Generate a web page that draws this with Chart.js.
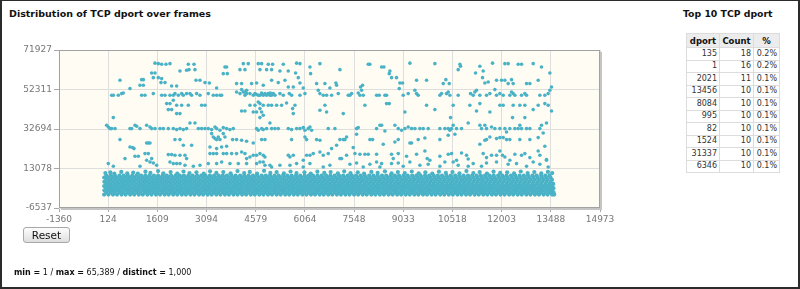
<!DOCTYPE html>
<html>
<head>
<meta charset="utf-8">
<script src="https://cdn.jsdelivr.net/npm/chart.js@4.4.1/dist/chart.umd.min.js"></script>
<style>
  html, body { margin:0; padding:0; }
  body { width:800px; height:289px; overflow:hidden; background:#fff; font-family:"DejaVu Sans", sans-serif; position:relative; }
  #frame { position:absolute; left:0; top:0; width:800px; height:289px; box-sizing:border-box; border:2px solid #2b2b2b; border-top-width:1px; }
  .title { position:absolute; font-weight:bold; font-size:9.5px; color:#111; white-space:nowrap; }
  #chartTitle { left:9px; top:8px; }
  #tableTitle { left:683px; top:8px; font-size:9.3px; }
  #wrap { position:absolute; left:0; top:40px; }
  #topTable { position:absolute; left:686px; top:33px; border-collapse:collapse; border:1px solid #cfcfcf; }
  #topTable th { background:#ececec; font-size:8.5px; font-weight:bold; color:#111; height:13px; padding:0 2px; border:1px solid #dcdcdc; }
  #topTable td { font-size:8px; color:#333; text-align:right; padding:0 2px; height:11.5px; line-height:10px; border:1px solid #dcdcdc; }
  #resetBtn { position:absolute; left:23px; top:227px; width:47px; height:16px; box-sizing:border-box; border:1px solid #a8a8a8; border-radius:3px;
              background:linear-gradient(#fdfdfd, #dedede); font-family:"DejaVu Sans", sans-serif; font-size:10.5px; color:#111; padding:0; line-height:13px; }
  #stats { position:absolute; left:14px; top:268px; font-size:8px; color:#111; white-space:nowrap; }
  #stats b { font-weight:bold; }
</style>
</head>
<body>
<div id="frame"></div>
<div class="title" id="chartTitle">Distribution of TCP dport over frames</div>
<div class="title" id="tableTitle">Top 10 TCP dport</div>
<div id="wrap"><canvas id="dportChart" width="620" height="190"></canvas></div>
<table id="topTable"></table>
<button id="resetBtn">Reset</button>
<div id="stats"></div>
<script>
// axis ticks
const xTicks = [-1360, 124, 1609, 3094, 4579, 6064, 7548, 9033, 10518, 12003, 13488, 14973];
const xTickLabels = ['-1360', '124', '1609', '3094', '4579', '6064', '7548', '9033', '10518', '12003', '13488', '14973'];
const yTicks = [-6537, 13078, 32694, 52311, 71927];
const yTickLabels = ['-6537', '13078', '32694', '52311', '71927'];

// top 10 table
const topPorts = ['135', '1', '2021', '13456', '8084', '995', '82', '1524', '31337', '6346'];
const topCounts = [18, 16, 11, 10, 10, 10, 10, 10, 10, 10];
const topShare = ['0.2%', '0.2%', '0.1%', '0.1%', '0.1%', '0.1%', '0.1%', '0.1%', '0.1%', '0.1%'];

// summary line
const statNames = ['min', 'max', 'distinct'];
const statValues = ['1', '65,389', '1,000'];

// dense low-port band: one list of frames per port level
const bandPorts = [150, 1200, 2250, 3300, 4350, 5400, 6450, 7500, 8550, 9600];
const band150 = [2,131,268,392,529,651,788,912,1049,1171,1309,1432,1568,1691,1829,1952,2088,2211,2349,2472,2608,2731,2869,2992,3128,3251,3389,3512,3648,3771,3909,4032,4168,4291,4429,4552,4688,4811,4949,5072,5208,5331,5469,5592,5728,5851,5989,6112,6248,6371,6509,6632,6768,6891,7029,7152,7288,7411,7549,7672,7808,7931,8069,8192,8328,8451,8589,8712,8848,8971,9109,9232,9368,9491,9629,9752,9888,10011,10149,10272,10408,10531,10669,10792,10928,11051,11189,11312,11448,11571,11709,11832,11968,12091,12229,12352,12488,12611,12749,12872,13008,13131,13269,13392,13528,13590];
const band1200 = [64,197,322,461,583,718,846,979,1101,1236,1368,1497,1622,1759,1887,2014,2142,2281,2406,2537,2668,2799,2923,3062,3188,3317,3446,3583,3709,3838,3967,4102,4228,4361,4487,4618,4753,4879,5006,5141,5266,5398,5527,5661,5789,5916,6047,6183,6308,6436,6571,6697,6829,6962,7088,7219,7351,7477,7612,7738,7866,8001,8127,8259,8392,8518,8647,8783,8909,9037,9172,9298,9431,9562,9687,9821,9948,10079,10213,10338,10469,10601,10728,10857,10992,11117,11249,11382,11508,11641,11768,11903,12029,12158,12292,12417,12549,12681,12807,12941,13068,13199,13331,13458,13571];
const band2250 = [11,139,259,401,521,662,779,921,1038,1182,1299,1441,1558,1702,1818,1961,2079,2222,2338,2482,2598,2741,2858,3001,3119,3262,3378,3521,3639,3782,3898,4041,4159,4302,4418,4561,4678,4822,4938,5081,5199,5342,5458,5601,5719,5862,5978,6121,6239,6382,6498,6641,6759,6902,7018,7161,7279,7422,7538,7681,7799,7942,8058,8201,8319,8462,8578,8721,8839,8982,9098,9241,9359,9502,9618,9761,9879,10022,10138,10281,10399,10542,10658,10801,10919,11062,11178,11321,11439,11582,11698,11841,11959,12102,12218,12361,12479,12622,12738,12881,12999,13142,13258,13401,13519];
const band3300 = [72,203,331,458,592,721,849,983,1112,1238,1371,1503,1629,1762,1891,2019,2152,2283,2411,2542,2672,2801,2934,3063,3191,3324,3452,3583,3712,3843,3971,4104,4232,4363,4491,4622,4752,4883,5011,5142,5272,5403,5531,5662,5791,5923,6052,6181,6312,6443,6571,6702,6833,6961,7092,7222,7351,7482,7613,7741,7872,8002,8131,8263,8392,8521,8652,8783,8911,9042,9172,9303,9431,9562,9693,9821,9952,10083,10211,10342,10472,10601,10732,10863,10991,11122,11253,11381,11512,11642,11771,11903,12032,12161,12292,12423,12551,12682,12813,12941,13072,13202,13331,13462,13566];
const band4350 = [3,128,261,389,518,649,777,908,1039,1168,1297,1428,1559,1687,1818,1949,2077,2208,2339,2467,2598,2729,2857,2988,3119,3247,3378,3509,3637,3768,3899,4027,4158,4289,4417,4548,4679,4807,4938,5069,5197,5328,5459,5587,5718,5849,5977,6108,6239,6367,6498,6629,6757,6888,7019,7147,7278,7409,7537,7668,7799,7927,8058,8189,8317,8448,8579,8707,8838,8969,9097,9228,9359,9487,9618,9749,9877,10008,10139,10267,10398,10529,10657,10788,10919,11047,11178,11309,11437,11568,11699,11827,11958,12089,12217,12348,12479,12607,12738,12869,12997,13128,13259,13387,13518];
const band5400 = [68,194,327,452,584,713,843,972,1104,1233,1362,1491,1623,1752,1881,2013,2142,2271,2403,2532,2661,2793,2922,3051,3183,3312,3441,3573,3702,3831,3963,4092,4221,4353,4482,4611,4743,4872,5001,5133,5262,5391,5523,5652,5781,5913,6042,6171,6303,6432,6561,6693,6822,6951,7083,7212,7341,7473,7602,7731,7863,7992,8121,8253,8382,8511,8643,8772,8901,9033,9162,9291,9423,9552,9681,9813,9942,10071,10203,10332,10461,10593,10722,10851,10983,11112,11241,11373,11502,11631,11763,11892,12021,12153,12282,12411,12543,12672,12801,12933,13062,13191,13323,13452,13561];
const band6450 = [9,137,266,398,527,655,786,914,1046,1175,1303,1434,1562,1694,1823,1951,2082,2210,2342,2471,2599,2730,2858,2990,3119,3247,3378,3506,3638,3767,3895,4026,4154,4286,4415,4543,4674,4802,4934,5063,5191,5322,5450,5582,5711,5839,5970,6098,6230,6359,6487,6618,6746,6878,7007,7135,7266,7394,7526,7655,7783,7914,8042,8174,8303,8431,8562,8690,8822,8951,9079,9210,9338,9470,9599,9727,9858,9986,10118,10247,10375,10506,10634,10766,10895,11023,11154,11282,11414,11543,11671,11802,11930,12062,12191,12319,12450,12578,12710,12839,12967,13098,13226,13358,13487];
const band7500 = [74,201,333,462,589,721,850,977,1109,1238,1365,1497,1626,1753,1885,2014,2141,2273,2402,2529,2661,2790,2917,3049,3178,3305,3437,3566,3693,3825,3954,4081,4213,4342,4469,4601,4730,4857,4989,5118,5245,5377,5506,5633,5765,5894,6021,6153,6282,6409,6541,6670,6797,6929,7058,7185,7317,7446,7573,7705,7834,7961,8093,8222,8349,8481,8610,8737,8869,8998,9125,9257,9386,9513,9645,9774,9901,10033,10162,10289,10421,10550,10677,10809,10938,11065,11197,11326,11453,11585,11714,11841,11973,12102,12229,12361,12490,12617,12749,12878,13005,13137,13266,13393,13525];
const band8550 = [6,133,264,391,522,654,781,912,1040,1171,1299,1430,1561,1688,1819,1947,2078,2206,2337,2465,2596,2727,2854,2985,3113,3244,3372,3503,3631,3762,3893,4020,4151,4279,4410,4538,4669,4797,4928,5059,5186,5317,5445,5576,5704,5835,5963,6094,6225,6352,6483,6611,6742,6870,7001,7129,7260,7391,7518,7649,7777,7908,8036,8167,8295,8426,8557,8684,8815,8943,9074,9202,9333,9461,9592,9723,9850,9981,10109,10240,10368,10499,10627,10758,10889,11016,11147,11275,11406,11534,11665,11793,11924,12055,12182,12313,12441,12572,12700,12831,12959,13090,13221,13348,13479];
const band9600 = [71,205,329,466,594,718,853,981,1118,1246,1372,1507,1633,1769,1894,2023,2158,2287,2411,2546,2674,2809,2935,3061,3196,3324,3459,3585,3711,3846,3972,4109,4236,4362,4497,4623,4758,4884,5011,5146,5272,5407,5533,5661,5796,5922,6057,6183,6310,6445,6571,6706,6832,6959,7094,7220,7355,7481,7608,7743,7869,8004,8130,8257,8392,8518,8653,8779,8906,9041,9167,9302,9428,9555,9690,9816,9951,10077,10204,10339,10465,10600,10726,10853,10988,11114,11249,11375,11502,11637,11763,11898,12024,12151,12286,12412,12547,12673,12800,12935,13061,13196,13322,13449];

// ragged top edge of the band [frame, dport]
const bandEdge = [[40,10800],[190,11200],[310,10600],[520,11400],[700,10700],[880,11100],[1020,10500],[1250,11500],[1400,10900],[1630,11800],[1790,10700],[2010,11300],[2210,10600],[2400,11600],[2580,10800],[2790,11200],[3010,10600],[3200,11700],[3390,10900],[3600,11300],[3820,10700],[4030,11800],[4230,10800],[4400,11400],[4620,10600],[4830,11900],[5020,10900],[5210,11300],[5430,10700],[5630,11600],[5810,10800],[6050,11200],[6240,10600],[6440,11500],[6650,10900],[6840,11300],[7060,10700],[7250,11700],[7440,10800],[7660,11200],[7850,10600],[8070,11400],[8260,10900],[8480,11700],[8680,10700],[8870,11300],[9080,10800],[9290,11600],[9500,10700],[9700,11200],[9910,10600],[10110,11500],[10320,10900],[10520,11300],[10730,10700],[10940,11800],[11150,10800],[11340,11300],[11560,10600],[11760,11500],[11960,10900],[12170,11200],[12380,10700],[12580,11600],[12790,10800],[12990,11300],[13200,10700],[13400,11400],[13530,10800]];

// scattered high ports [frame, dport]
const highPoints = [[1538,65389],[1638,65159],[1739,64828],[1870,64828],[1990,65159],[2544,64828],[2715,64828],[3650,63504],[3700,63504],[4204,65159],[4354,65159],[4656,65159],[4757,65159],[4958,64828],[5089,64828],[5411,64828],[5813,65389],[5914,65159],[6517,65159],
[2292,61518],[2493,61849],[2564,62180],[2745,62180],[3600,60194],[3721,60194],[4103,62180],[4254,62180],[4707,62180],[4908,62180],[5059,62180],[5310,61518],[5562,61518],[5783,60525],[6216,63504],[6236,60194],[7121,62180],
[1437,60525],[1538,60525],[1487,58208],[1638,58208],[1739,57712],[481,56884],[1135,57215],[1186,57215],[1719,55726],[1840,55726],[2775,56884],[2896,56884],[3047,55726],[3178,55560],[3399,53078],[4001,55229],[4153,55229],[4455,55229],[4606,55560],[4807,54402],[5059,56884],[5260,55726],[5461,56884],[5864,58208],[5914,55560],[6417,55229],[6668,55229],[7000,55560],[7020,54402],
[1085,54402],[1186,54402],[2041,54071],[2192,54071],[5562,53574],[5713,53574],[6014,53078],[6819,53078],
[7976,64828],[8026,64828],[8379,63504],[8449,63504],[9234,65389],[9988,65159],[10743,64828],[10763,63835],[11346,63835],[11728,65389],[12101,65159],[12201,65159],[12503,64828],[12604,64828],[12956,65159],[13207,63504],
[8630,61518],[8610,60194],[8680,58208],[8831,58208],[8932,55560],[9012,55560],[9435,56884],[9737,56884],[10320,57215],[10240,55229],[10421,55229],[10692,62180],[11215,60525],[11447,61518],[11427,58208],[11497,55560],[11598,56057],[11849,56884],[12000,56884],[12101,56884],[12201,55229],[12302,57215],[12352,55229],[12755,55229],[12855,55229],[13107,56884],[13459,60525],
[7745,53574],[7805,54402],[13509,53574]];

const row49k = [[783,52746],[4153,52250],[4254,51092],[4304,51919],[6467,51919],
[230,49437],[280,49437],[431,49437],[532,50264],[582,50595],[1135,49437],[1236,49437],[1487,50264],[1739,49437],[1840,49437],[1990,49437],[2091,49437],[2141,50264],[2242,49437],[2343,50264],[2393,49437],[2493,50264],[2594,50264],[2644,49437],[2795,50264],[2896,49437],[3147,50264],[3298,49437],[3399,49437],[3499,49437],[3550,49437],[4001,51092],[4103,50264],[4204,51092],[4254,49437],[4304,50264],[4405,50264],[4505,49437],[4707,49437],[4757,50595],[4858,50264],[4958,50264],[5059,50264],[5109,50264],[5159,49437],[5310,50264],[5411,49437],[5592,50264],[5662,49437],[5914,49437],[6065,50264],[6517,50264],[6618,49437],[6719,49437],[6870,49437],[7071,50264],[7373,49437],
[4656,49437],[4808,49437],[4908,49437],[5008,49437],[4556,50264],[4606,49850],[4757,49850],[4858,49850],[5008,50595],[5059,49437],
[7775,51919],[7423,49437],[7473,50264],[7674,50595],[7725,49437],[7825,49437],[8228,49437],[8308,49437],[8479,49437],[8529,49437],[8912,52746],[9032,49437],[9183,50264],[9384,51919],[9435,50264],[9485,49437],[10139,49437],[10189,50264],[10340,50264],[10391,51092],[10441,49437],[10692,49437],[11064,50264],[11145,49437],[11195,51092],[11245,51919],[11346,49437],[11547,49437],[11648,50264],[11799,52250],[11849,49437],[11950,50264],[12050,49437],[12251,49437],[12302,51092],[12352,50264],[12403,49437],[12604,49437],[12704,50264],[12755,49437],[13157,49437],[13308,49437],[13409,50264],[13459,51919]];

const midPoints = [[1890,45299],[1990,45299],[2091,46954],[2192,44472],[2343,44472],[2544,44472],[2946,44472],[3047,44472],[4405,44472],[4556,44472],[4656,46127],[4707,45299],[4807,44472],[4958,44472],[5059,44472],[5210,44472],[5360,44472],[5511,45630],[5763,44472],[6517,41989],[6668,44472],[6719,41162],[1940,42320],[2041,42320],[2192,40334],[2292,40334],[4153,41658],[4254,41658],[4505,41162],[4606,41162],[4707,42816],[4757,41162],[4807,39506],[4707,38348],[5692,42816],[5713,40334],[280,38348],
[7876,44472],[8529,45299],[8610,45299],[9083,41162],[9737,44472],[9988,42320],[10541,44472],[11044,44472],[11245,41658],[11346,45299],[11648,41162],[11950,44472],[12050,44472],[12352,44472],[12553,44472],[12704,44472],[12956,42320],[13107,44472],[13308,45299],[13409,44472],[13509,41658],[7222,40334],[10461,38348],[12332,38348],[12704,38348]];

const row32k = [[79,34541],[129,33714],[180,32887],[230,32887],[331,32887],[783,32887],[834,32887],[934,34541],[984,34045],[1085,32887],[1286,34541],[1387,33714],[1437,32887],[1538,32887],[1689,32887],[1789,32887],[1940,32887],[2091,32887],[2192,32390],[2292,32887],[2393,32390],[2493,32887],[2594,35700],[2745,35700],[2846,32887],[2946,32887],[3047,32887],[3147,32887],[3248,32390],[3349,33714],[3399,32887],[3499,32059],[3600,33383],[3701,32887],[3801,32390],[3902,32887],[4606,32887],[4656,32059],[4757,32887],[4807,32390],[4908,32887],[5008,35700],[5059,32887],[5159,32887],[5260,32887],[5562,32887],[5662,32390],[5813,32887],[5914,32887],[6014,33383],[6065,32059],[6165,32887],[6216,33714],[6266,32059],[6769,32887],[6970,32887],
[7624,32887],[7674,33383],[8228,32887],[8328,34541],[8379,34541],[8479,31728],[8781,34541],[8882,32887],[8982,32059],[9083,32887],[9183,33714],[9284,32887],[9385,32887],[9535,32887],[9636,32887],[9787,32887],[10139,32887],[10290,32887],[10391,32887],[10491,32887],[10541,34541],[10642,32887],[10793,32887],[10994,35700],[11346,34541],[11397,32887],[11497,34541],[11547,32887],[11698,33714],[11799,32887],[11950,32887],[12101,32887],[12151,31232],[12251,32887],[12403,32887],[12503,32887],[12553,34541],[12604,32887],[12755,32887],[12855,32887],[13157,32887],[13207,34541],[13358,35700]];

const lowPoints = [[481,27425],[1337,25770],[1387,25770],[2141,27425],[2292,27425],[3248,30404],[3298,28749],[3349,27922],[3399,27425],[3449,28749],[3499,27425],[3600,30404],[3650,28749],[3882,27425],[4001,27425],[4153,27094],[4304,26597],[4505,25770],[4757,27425],[4858,27425],[5662,27425],[6065,28749],[6115,27425],[6417,27425],[6517,27094],[7121,27425],[7322,28749],[7222,27425],
[783,23784],[864,23453],[904,22956],[1286,25770],[2393,24611],[2644,24611],[3198,23784],[3399,22956],[3550,23784],[3701,24115],[7020,24611],[6870,22956],
[7272,27425],[7624,30073],[8026,27425],[8107,27425],[8429,25108],[8781,26266],[8882,27425],[9234,25770],[9284,25770],[9485,27425],[9686,28252],[10139,27425],[10391,29576],[10441,32059],[10592,30073],[11346,25108],[11497,27094],[11547,27425],[11648,28749],[11849,27922],[11950,28418],[12050,28418],[12151,27425],[12251,27425],[12553,27425],[12855,27425],[13107,28418],[13258,30735],[7523,23453],[13308,24115]];

const lowerPoints = [[632,17991],[934,19150],[1035,19150],[1236,20474],[1337,20474],[1437,17991],[1940,19977],[2041,19977],[2141,19646],[2292,19646],[2443,19646],[2493,17991],[3198,20474],[3298,20474],[3399,20474],[3600,20474],[3701,20474],[3852,20474],[4001,20474],[4153,21301],[4254,20474],[4304,17991],[4405,18819],[4505,19646],[4606,19646],[4707,20474],[4807,19646],[4858,18819],[5562,19646],[5612,18819],[5713,19646],[6014,17164],[6115,19646],[6216,19646],[6316,20474],[6517,21301],[6618,19646],[6769,20474],[7121,17991],[7322,19646],
[129,15509],[280,14185],[1085,14185],[1286,17164],[1387,16336],[1487,15840],[1588,14681],[1990,16336],[2091,15509],[2192,15509],[2292,15509],[2443,14681],[2695,14185],[2896,14681],[3147,15509],[3399,15509],[3550,16336],[3801,15509],[4053,15509],[4304,15509],[4606,15509],[4707,16336],[4807,16336],[4858,14681],[5008,14681],[5059,13854],[5310,14681],[5612,14681],[5813,15509],[6014,13854],[6216,15509],[6618,13854],[6819,14681],
[7574,20474],[7725,20143],[7876,20143],[7976,20143],[8228,20143],[8379,15509],[8680,20143],[8731,17991],[8882,20474],[9133,19150],[9435,20143],[9686,21798],[9757,17991],[9837,17164],[10139,19150],[10391,20143],[10491,20474],[10642,17164],[10793,20805],[10944,19646],[10994,17826],[11447,20474],[11547,18488],[11698,19646],[11849,19646],[11950,21798],[12030,19646],[12101,18819],[12251,17164],[12403,20143],[12604,19646],[12704,20474],[12855,18488],[13107,21798],[13157,19646],[13358,17495],
[7171,17991],[7423,15178],[7624,15840],[7825,13854],[8026,15178],[8228,16336],[8328,13854],[8680,15509],[8882,15840],[9032,14185],[9234,16336],[9535,14681],[9787,15178],[10139,14185],[10290,16336],[10541,16336],[10692,14681],[10994,14185],[11145,15509],[11397,14185],[11547,15840],[11849,16336],[12201,15178],[12453,15509],[12755,14185],[12956,16336],[13157,15178],[13358,17164],[13409,13854]];

//----------------------------------------------------------------------------------------------
const pointColor = 'rgb(74, 178, 198)';

const bandFrames = [band150, band1200, band2250, band3300, band4350, band5400, band6450, band7500, band8550, band9600];
let bandData = [];
bandFrames.forEach((frames, i) => {
    frames.forEach(f => bandData.push({ x: f, y: bandPorts[i] }));
});
bandEdge.forEach(p => bandData.push({ x: p[0], y: p[1] }));

let sparseData = [];
[highPoints, row49k, midPoints, row32k, lowPoints, lowerPoints].forEach(group => {
    group.forEach(p => sparseData.push({ x: p[0], y: p[1] }));
});

// cream plot background and grey frame with a small shadow
const plotFrame = {
    id: 'plotFrame',
    beforeDraw(chart) {
        const { ctx, chartArea: a } = chart;
        ctx.save();
        ctx.fillStyle = '#fffcf3';
        ctx.fillRect(a.left, a.top, a.right - a.left, a.bottom - a.top);
        ctx.restore();
    },
    afterDraw(chart) {
        const { ctx, chartArea: a } = chart;
        ctx.save();
        ctx.fillStyle = '#c4c4c4';
        ctx.fillRect(a.right, a.top + 2, 2, a.bottom - a.top);
        ctx.fillRect(a.left + 2, a.bottom, a.right - a.left, 2);
        ctx.strokeStyle = '#a2a2a2';
        ctx.lineWidth = 1;
        ctx.strokeRect(a.left + 0.5, a.top + 0.5, a.right - a.left - 1, a.bottom - a.top - 1);
        ctx.restore();
    }
};

const tickFont = { family: 'DejaVu Sans', size: 9 };

let ctx = document.getElementById('dportChart').getContext('2d');
let dportChart = new Chart(ctx, {
    type: 'scatter',
    data: {
        datasets: [{
            label: 'band',
            data: bandData,
            backgroundColor: pointColor,
            borderWidth: 0,
            pointRadius: 2.1
        }, {
            label: 'dport',
            data: sparseData,
            backgroundColor: pointColor,
            borderWidth: 0,
            pointRadius: 1.8
        }]
    },
    options: {
        responsive: false,
        animation: false,
        events: [],
        layout: { padding: { top: 10, right: 20, left: 0, bottom: 0 } },
        plugins: { legend: { display: false }, tooltip: { enabled: false } },
        scales: {
            x: {
                type: 'linear',
                min: -1360,
                max: 14973,
                afterBuildTicks: s => { s.ticks = xTicks.map(v => ({ value: v })); },
                afterFit: s => { s.height = 22; },
                border: { display: false },
                grid: { color: '#dedede', tickColor: '#a8a8a8', tickLength: 4 },
                ticks: { color: '#777', font: tickFont, padding: 2, maxRotation: 0, autoSkip: false,
                         callback: (v, i) => xTickLabels[i] }
            },
            y: {
                type: 'linear',
                min: -6537,
                max: 71927,
                afterBuildTicks: s => { s.ticks = yTicks.map(v => ({ value: v })); },
                afterFit: s => { s.width = 59; },
                border: { display: false },
                grid: { color: '#dedede', tickColor: '#a8a8a8', tickLength: 5 },
                ticks: { color: '#777', font: tickFont, padding: 2,
                         callback: (v, i) => yTickLabels[i] }
            }
        }
    },
    plugins: [plotFrame]
});

// table of most frequent ports
let table = document.getElementById('topTable');
let html = '<tr><th style="width:28px">dport</th><th style="width:29px">Count</th><th style="width:21px">%</th></tr>';
topPorts.forEach((p, i) => {
    html += '<tr><td>' + p + '</td><td>' + topCounts[i] + '</td><td>' + topShare[i] + '</td></tr>';
});
table.innerHTML = html;

document.getElementById('stats').innerHTML = statNames
    .map((n, i) => '<b>' + n + ' =</b> ' + statValues[i])
    .join(' / ');
</script>
</body>
</html>
